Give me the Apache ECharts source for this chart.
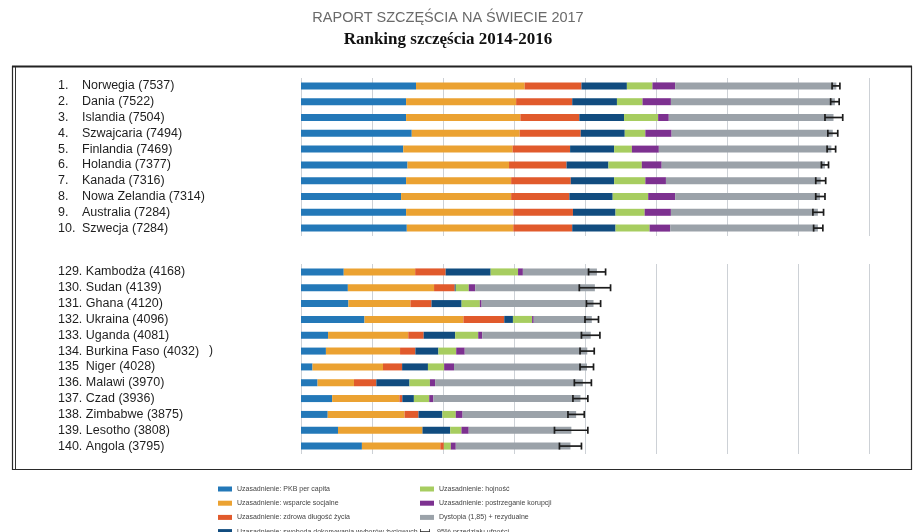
<!DOCTYPE html>
<html>
<head>
<meta charset="utf-8">
<script src="https://cdn.jsdelivr.net/npm/echarts@6/dist/echarts.min.js"></script>
<style>
html,body{margin:0;padding:0;background:#fff;}
#chart{width:918px;height:532px;}
</style>
</head>
<body>
<div id="chart"></div>
<script>
// ---- categories ----
const topRanks = ['1.', '2.', '3.', '4.', '5.', '6.', '7.', '8.', '9.', '10.'];
const topNames = ['Norwegia (7537)', 'Dania (7522)', 'Islandia (7504)', 'Szwajcaria (7494)', 'Finlandia (7469)',
  'Holandia (7377)', 'Kanada (7316)', 'Nowa Zelandia (7314)', 'Australia (7284)', 'Szwecja (7284)'];
const bottomLabels = ['129. Kambodża (4168)', '130. Sudan (4139)', '131. Ghana (4120)', '132. Ukraina (4096)',
  '133. Uganda (4081)', '134. Burkina Faso (4032)', '135  Niger (4028)', '136. Malawi (3970)', '137. Czad (3936)',
  '138. Zimbabwe (3875)', '139. Lesotho (3808)', '140. Angola (3795)'];

// ---- series names ----
const seriesNames = ['Uzasadnienie: PKB per capita', 'Uzasadnienie: wsparcie socjalne', 'Uzasadnienie: zdrowa długość życia',
  'Uzasadnienie: swoboda dokonywania wyborów życiowych', 'Uzasadnienie: hojność', 'Uzasadnienie: postrzeganie korupcji',
  'Dystopia (1,85) + rezydualne', '95% przedziału ufności'];

// ---- top 10 values ----
const topGDP        = [1.62, 1.48, 1.48, 1.56, 1.44, 1.50, 1.48, 1.41, 1.48, 1.49];
const topSocial     = [1.53, 1.55, 1.61, 1.52, 1.54, 1.43, 1.48, 1.55, 1.51, 1.50];
const topHealth     = [0.80, 0.79, 0.83, 0.86, 0.81, 0.81, 0.84, 0.82, 0.84, 0.83];
const topFreedom    = [0.64, 0.63, 0.63, 0.62, 0.62, 0.59, 0.61, 0.61, 0.60, 0.61];
const topGenerosity = [0.36, 0.36, 0.48, 0.29, 0.25, 0.47, 0.44, 0.50, 0.41, 0.48];
const topCorruption = [0.32, 0.40, 0.15, 0.37, 0.38, 0.28, 0.29, 0.38, 0.37, 0.29];
const topDystopia   = [2.27, 2.31, 2.32, 2.27, 2.43, 2.30, 2.18, 2.04, 2.07, 2.08];
const topCiLow      = [7.48, 7.46, 7.38, 7.42, 7.41, 7.33, 7.25, 7.25, 7.21, 7.22];
const topCiHigh     = [7.59, 7.58, 7.63, 7.56, 7.53, 7.43, 7.39, 7.38, 7.36, 7.35];

// ---- bottom 12 values ----
const botGDP        = [0.602, 0.660, 0.668, 0.894, 0.381, 0.351, 0.162, 0.233, 0.439, 0.376, 0.521, 0.858];
const botSocial     = [1.006, 1.214, 0.874, 1.394, 1.130, 1.044, 0.993, 0.513, 0.947, 1.083, 1.190, 1.104];
const botHealth     = [0.430, 0.291, 0.296, 0.575, 0.217, 0.216, 0.269, 0.315, 0.041, 0.196, 0.000, 0.050];
const botFreedom    = [0.633, 0.015, 0.424, 0.122, 0.443, 0.324, 0.364, 0.467, 0.163, 0.336, 0.391, 0.000];
const botGenerosity = [0.386, 0.183, 0.257, 0.270, 0.325, 0.251, 0.228, 0.288, 0.216, 0.189, 0.158, 0.098];
const botCorruption = [0.068, 0.090, 0.025, 0.023, 0.057, 0.120, 0.139, 0.073, 0.059, 0.096, 0.102, 0.070];
const botDystopia   = [1.043, 1.686, 1.576, 0.818, 1.528, 1.726, 1.873, 2.081, 2.071, 1.599, 1.446, 1.615];
const botCiLow      = [4.05, 3.92, 4.02, 4.00, 3.95, 3.93, 3.93, 3.85, 3.83, 3.76, 3.57, 3.64];
const botCiHigh     = [4.29, 4.36, 4.22, 4.19, 4.21, 4.13, 4.12, 4.09, 4.04, 3.99, 4.04, 3.95];

const colors = ['#2378b8', '#eba232', '#e15a2c', '#114c7f', '#a7cd60', '#7d3190', '#9ba2a9', '#222222'];
const FONT = '"Liberation Sans", Arial, Helvetica, sans-serif';

const topData = [topGDP, topSocial, topHealth, topFreedom, topGenerosity, topCorruption, topDystopia];
const botData = [botGDP, botSocial, botHealth, botFreedom, botGenerosity, botCorruption, botDystopia];

function errRender(params, api) {
  const idx = api.value(2);
  const p1 = api.coord([api.value(0), idx]);
  const p2 = api.coord([api.value(1), idx]);
  const h = 3.5;
  const st = { stroke: '#1c1c1c', lineWidth: 1.7 };
  return {
    type: 'group',
    children: [
      { type: 'line', shape: { x1: p1[0], y1: p1[1], x2: p2[0], y2: p2[1] }, style: st },
      { type: 'line', shape: { x1: p1[0], y1: p1[1] - h, x2: p1[0], y2: p1[1] + h }, style: st },
      { type: 'line', shape: { x1: p2[0], y1: p2[1] - h, x2: p2[0], y2: p2[1] + h }, style: st }
    ]
  };
}

const series = [];
topData.forEach((d, k) => series.push({
  name: seriesNames[k], type: 'bar', stack: 'top', xAxisIndex: 0, yAxisIndex: 0,
  barWidth: 7, data: d, itemStyle: { color: colors[k] }, silent: true
}));
botData.forEach((d, k) => series.push({
  name: seriesNames[k], type: 'bar', stack: 'bot', xAxisIndex: 1, yAxisIndex: 1,
  barWidth: 7, data: d, itemStyle: { color: colors[k] }, silent: true
}));
series.push({
  name: seriesNames[7], type: 'custom', xAxisIndex: 0, yAxisIndex: 0, z: 10,
  itemStyle: { color: '#222' }, renderItem: errRender, encode: { x: [0, 1], y: 2 },
  data: topCiLow.map((l, i) => [l, topCiHigh[i], i])
});
series.push({
  name: seriesNames[7], type: 'custom', xAxisIndex: 1, yAxisIndex: 1, z: 10,
  itemStyle: { color: '#222' }, renderItem: errRender, encode: { x: [0, 1], y: 2 },
  data: botCiLow.map((l, i) => [l, botCiHigh[i], i])
});

const xAx = (g) => ({
  gridIndex: g, type: 'value', min: 0, max: 8, interval: 1,
  axisLabel: { show: false }, axisLine: { show: false }, axisTick: { show: false },
  splitLine: { show: true, lineStyle: { color: '#cdd1d6', width: 1 } }
});

const labelStyle = { fontSize: 12.5, fontFamily: FONT, color: '#1e1e1e' };

const errIcon = 'path://M0,0h1.5v10h-1.5z M1.5,4.2h17v1.6h-17z M18.5,0h1.5v10h-1.5z';
const legends = seriesNames.map((name, k) => ({
  orient: 'horizontal', left: k < 4 ? 218 : 420, top: 485 + (k % 4) * 14.2,
  itemWidth: 14, itemHeight: 5, padding: 0, icon: 'rect', selectedMode: false,
  textStyle: { fontSize: 7, lineHeight: 8, color: '#444', fontFamily: FONT },
  data: [k === 7 ? { name: name, icon: errIcon } : name]
}));

const option = {
  animation: false,
  backgroundColor: '#fff',
  grid: [
    { left: 301, width: 568, top: 78, height: 158 },
    { left: 301, width: 568, top: 264, height: 190 }
  ],
  xAxis: [xAx(0), xAx(1)],
  yAxis: [
    {
      gridIndex: 0, type: 'category', data: topNames, inverse: true,
      axisLine: { show: false }, axisTick: { show: false },
      axisLabel: {
        interval: 0, align: 'left', margin: 243,
        formatter: (v, i) => '{r|' + topRanks[i] + '}{n|' + v + '}',
        rich: { r: Object.assign({ width: 24 }, labelStyle), n: Object.assign({}, labelStyle) }
      }
    },
    {
      gridIndex: 1, type: 'category', data: bottomLabels, inverse: true,
      axisLine: { show: false }, axisTick: { show: false },
      axisLabel: Object.assign({ interval: 0, align: 'left', margin: 243 }, labelStyle)
    }
  ],
  legend: legends,
  graphic: [
    { type: 'text', x: 448, y: 18, style: { text: 'RAPORT SZCZĘŚCIA NA ŚWIECIE 2017', font: '14.5px ' + FONT, fill: '#6a6a6a', textAlign: 'center', textVerticalAlign: 'middle' } },
    { type: 'text', x: 448, y: 40, style: { text: 'Ranking szczęścia 2014-2016', font: 'bold 17px "Liberation Serif", "Times New Roman", serif', fill: '#111', textAlign: 'center', textVerticalAlign: 'middle' } },
    { type: 'rect', shape: { x: 12.5, y: 66.5, width: 899, height: 403 }, style: { fill: 'none', stroke: '#2a2a2a', lineWidth: 1.2 }, silent: true },
    { type: 'line', shape: { x1: 12, y1: 66.5, x2: 912, y2: 66.5 }, style: { stroke: '#222', lineWidth: 2 }, silent: true },
    { type: 'line', shape: { x1: 15.5, y1: 67, x2: 15.5, y2: 469 }, style: { stroke: '#333', lineWidth: 1 }, silent: true },
    { type: 'text', x: 209, y: 351, style: { text: ')', font: '12px ' + FONT, fill: '#222', textVerticalAlign: 'middle' } }
  ],
  series: series
};

const chart = echarts.init(document.getElementById('chart'), null, { renderer: 'canvas' });
chart.setOption(option);
</script>
</body>
</html>
